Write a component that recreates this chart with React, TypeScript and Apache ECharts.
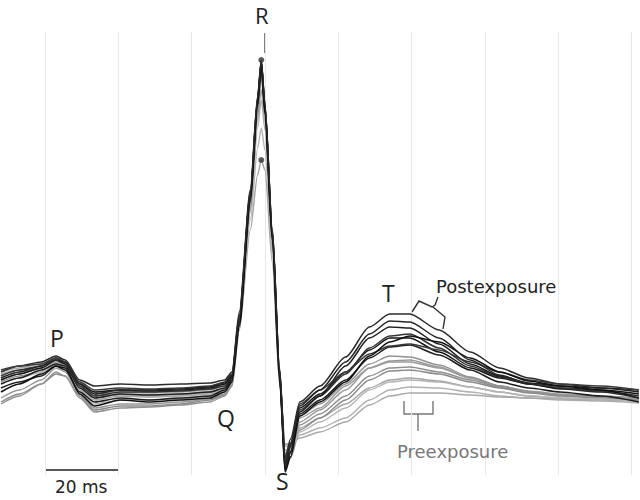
import React, { useEffect, useRef } from "react";
import * as echarts from "echarts";

// time axis (ms) shared by all beats
const timeMs = [-12, -7, -1, 3, 5.5, 9.5, 13.5, 20.5, 28.5, 37, 45, 49, 51, 53, 56, 58, 59, 60, 62, 64, 65.5, 67, 69.5, 75, 82, 88.5, 94, 99.5, 107.5, 116, 124, 132, 140.5, 151.5, 162];

// amplitude (µV) – postexposure beats
const postA = [30, 48, 66, 90, 78, 18, -6, 0, -3, 0, 6, 18, 42, 216, 585, 870, 984, 846, 474, 54, -216, -160, -54, -12, 54, 120, 156, 156, 114, 66, 36, 18, 6, 0, -12];
const postB = [54, 72, 84, 102, 90, 30, 12, 18, 15, 18, 21, 30, 54, 234, 600, 882, 990, 858, 486, 66, -204, -146, -36, 12, 99, 189, 228, 228, 180, 114, 66, 36, 18, 6, 0];
const postC = [6, 24, 42, 72, 60, -6, -36, -24, -30, -24, -18, 0, 30, 198, 570, 858, 978, 834, 456, 36, -234, -184, -72, -30, 30, 96, 129, 135, 105, 60, 24, 6, -6, -18, -36];
const postD = [42, 60, 72, 96, 84, 12, -18, -6, -6, -3, 3, 12, 36, 210, 582, 870, 984, 852, 468, 48, -225, -170, -60, -18, 48, 126, 162, 168, 126, 72, 39, 18, 6, -3, -18];
const postE = [18, 36, 60, 78, 72, 6, -24, -12, -15, -12, -6, 6, 36, 204, 576, 864, 978, 840, 462, 42, -240, -188, -66, -18, 72, 156, 189, 186, 138, 78, 42, 21, 12, 6, -6];
const postF = [60, 72, 78, 96, 84, 24, 0, 6, 3, 6, 12, 24, 48, 222, 588, 876, 984, 852, 480, 60, -210, -158, -42, 0, 54, 108, 132, 138, 120, 84, 54, 30, 18, 12, 0];
const postG = [-6, 18, 48, 72, 66, -12, -48, -30, -36, -30, -24, -6, 24, 192, 564, 852, 972, 828, 450, 30, -246, -200, -78, -36, 24, 102, 144, 162, 144, 96, 54, 27, 12, 0, -24];
const postH = [36, 54, 72, 90, 84, 18, -12, 0, 0, 3, 9, 21, 45, 222, 591, 876, 987, 855, 480, 60, -222, -164, -48, 0, 84, 168, 207, 204, 156, 90, 45, 18, 3, -6, -24];

// amplitude (µV) – preexposure beats
const preA = [24, 42, 54, 78, 72, 12, -18, -12, -15, -12, -6, 6, 30, 198, 555, 840, 954, 825, 450, 36, -180, -190, -105, -72, -18, 42, 66, 69, 54, 30, 9, -6, -15, -18, -24];
const preB = [48, 60, 72, 90, 78, 0, -30, -18, -21, -18, -12, 0, 24, 180, 480, 645, 690, 660, 384, 18, -162, -168, -114, -84, -42, 6, 30, 36, 27, 9, -6, -18, -24, -27, -33];
const preC = [-24, 0, 30, 66, 54, -12, -54, -42, -42, -36, -27, -12, 18, 192, 558, 846, 966, 834, 456, 30, -198, -186, -96, -60, 0, 66, 87, 90, 69, 36, 12, -6, -15, -21, -36];
const preD = [36, 54, 66, 84, 72, 6, -24, -15, -18, -15, -9, 3, 27, 192, 534, 786, 870, 780, 420, 24, -168, -174, -135, -114, -84, -30, 0, 9, 6, -6, -18, -24, -30, -33, -39];
const preE = [-36, -12, 18, 48, 42, -18, -60, -48, -48, -42, -30, -15, 12, 186, 552, 840, 960, 828, 450, 24, -204, -204, -120, -84, -30, 30, 57, 60, 48, 24, 6, -9, -18, -24, -30];
const preF = [54, 66, 78, 96, 84, 18, -12, -6, -9, -6, 0, 12, 36, 204, 546, 810, 900, 804, 432, 36, -162, -162, -144, -126, -96, -45, -18, -9, -9, -15, -21, -24, -27, -30, -33];
const preG = [30, 48, 66, 84, 78, 24, -6, 0, -6, -3, 3, 15, 39, 210, 570, 858, 972, 840, 462, 42, -192, -174, -84, -54, 12, 66, 84, 84, 66, 36, 12, -3, -12, -18, -27];
const preH = [18, 36, 54, 78, 66, -6, -42, -30, -30, -27, -18, -6, 21, 186, 510, 726, 786, 720, 402, 21, -180, -180, -126, -96, -54, 0, 24, 30, 24, 9, -6, -18, -24, -27, -36];
const preI = [-42, -18, 18, 54, 42, -24, -66, -54, -51, -45, -36, -18, 12, 180, 540, 822, 942, 816, 438, 18, -192, -168, -78, -42, 18, 78, 102, 99, 75, 39, 12, -6, -15, -21, -30];

const postTraces = [postA, postB, postC, postD, postE, postF, postG, postH];
const preTraces = [preA, preB, preC, preD, preE, preF, preG, preH, preI];

const gridTicksMs = [0, 20, 40, 60, 80, 100, 120, 140, 160];
const rPeakIndex = 16;

const postColors = ["#151515", "#2b2b2b", "#1c1c1c", "#333333", "#202020", "#3a3a3a", "#111111", "#262626"];
const preColors = ["#8e8e8e", "#a3a3a3", "#989898", "#b0b0b0", "#8a8a8a", "#a8a8a8", "#9c9c9c", "#b4b4b4", "#929292"];

const toPairs = (vals: number[]) => vals.map((v, i) => [timeMs[i], v]);

export default function App() {
  const ref = useRef<HTMLDivElement>(null);

  useEffect(() => {
    if (!ref.current) return;
    const chart = echarts.init(ref.current, undefined, { renderer: "svg" });

    const series: any[] = [];
    preTraces.forEach((t, i) => {
      series.push({
        type: "line",
        data: toPairs(t),
        showSymbol: false,
        smooth: 0.25,
        smoothMonotone: "x",
        lineStyle: { color: preColors[i % preColors.length], width: 1.4 },
        z: 3,
        silent: true,
        ...(i === 0
          ? {
              markLine: {
                silent: true,
                symbol: ["none", "none"],
                label: { show: false },
                lineStyle: { color: "#e8e8e8", width: 1, type: "solid" },
                data: gridTicksMs.map((x) => ({ xAxis: x })),
                z: 1,
              },
            }
          : {}),
      });
    });
    postTraces.forEach((t, i) => {
      series.push({
        type: "line",
        data: toPairs(t),
        showSymbol: false,
        smooth: 0.25,
        smoothMonotone: "x",
        lineStyle: { color: postColors[i % postColors.length], width: 1.5 },
        z: 4,
        silent: true,
      });
    });
    series.push({
      type: "scatter",
      data: [
        [timeMs[rPeakIndex], postB[rPeakIndex]],
        [timeMs[rPeakIndex], preB[rPeakIndex]],
      ],
      symbolSize: 6,
      itemStyle: { color: "#333" },
      z: 5,
      silent: true,
    });

    const labelFont = { fontFamily: "Open Sans", fontSize: 23, fill: "#222" };
    const noteFont = { fontFamily: "DejaVu Sans", fontSize: 18 };

    chart.setOption({
      animation: false,
      backgroundColor: "#ffffff",
      grid: { left: 0, right: 0, top: 32, bottom: 25 },
      xAxis: {
        type: "value",
        min: -12.27,
        max: 162.3,
        show: false,
        splitLine: { show: false },
      },
      yAxis: {
        type: "value",
        min: -255,
        max: 1074,
        show: false,
        splitLine: { show: false },
      },
      series,
      graphic: [
        { type: "text", left: 255, top: 4, z: 10, style: { text: "R", fontFamily: "Open Sans", fontSize: 22, fill: "#222" } },
        { type: "line", shape: { x1: 265, y1: 33, x2: 265, y2: 53 }, style: { stroke: "#555", lineWidth: 1.5 } },
        { type: "text", left: 50, top: 326, z: 10, style: { text: "P", ...labelFont } },
        { type: "text", left: 217, top: 406, z: 10, style: { text: "Q", ...labelFont } },
        { type: "text", left: 276, top: 469, z: 10, style: { text: "S", ...labelFont } },
        { type: "text", left: 382, top: 281, z: 10, style: { text: "T", ...labelFont } },
        { type: "text", left: 436, top: 277, z: 10, style: { text: "Postexposure", ...noteFont, fill: "#222" } },
        {
          type: "polyline",
          shape: { points: [[412, 312], [419, 301], [432, 307], [435, 305], [438, 297]] },
          style: { stroke: "#333", lineWidth: 1.4, fill: "none" },
        },
        {
          type: "polyline",
          shape: { points: [[433, 307], [445, 317], [443, 329]] },
          style: { stroke: "#333", lineWidth: 1.4, fill: "none" },
        },
        {
          type: "polyline",
          shape: { points: [[404, 401], [404, 414], [433, 414], [433, 401]] },
          style: { stroke: "#777", lineWidth: 1.4, fill: "none" },
        },
        { type: "line", shape: { x1: 418, y1: 414, x2: 418, y2: 431 }, style: { stroke: "#777", lineWidth: 1.4 } },
        { type: "text", left: 397, top: 442, z: 10, style: { text: "Preexposure", ...noteFont, fill: "#777" } },
        { type: "line", shape: { x1: 45, y1: 470, x2: 119, y2: 470 }, style: { stroke: "#222", lineWidth: 1.3 } },
        { type: "text", left: 55, top: 478, z: 10, style: { text: "20 ms", fontFamily: "DejaVu Sans", fontSize: 17, fill: "#222" } },
      ],
    });

    return () => chart.dispose();
  }, []);

  return (
    <div
      ref={ref}
      style={{ position: "fixed", left: 0, top: 0, width: 640, height: 500, background: "#fff" }}
    />
  );
}
